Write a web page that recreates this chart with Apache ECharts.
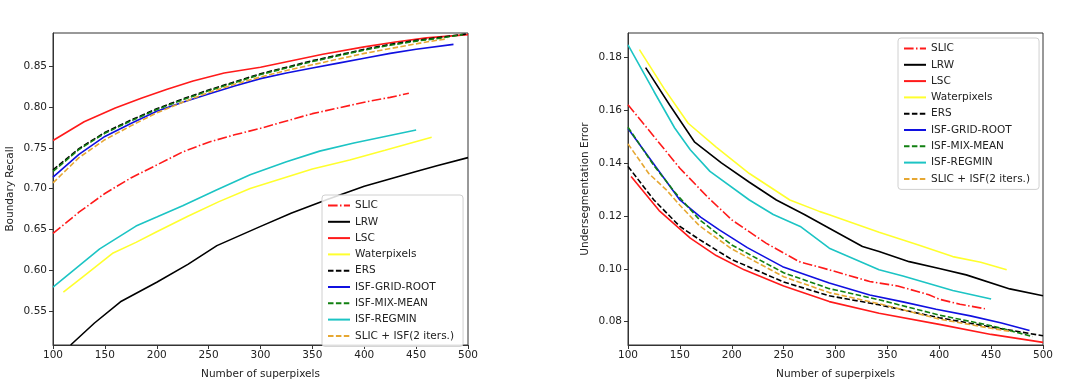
<!DOCTYPE html>
<html>
<head>
<meta charset="utf-8">
<script src="https://cdn.jsdelivr.net/npm/echarts@6/dist/echarts.min.js"></script>
<style>
html,body{margin:0;padding:0;background:#fff;}
#chart{width:1080px;height:392px;}
</style>
</head>
<body>
<div id="chart"></div>
<script>
// ---------- Data ----------
const seriesNames = ['SLIC','LRW','LSC','Waterpixels','ERS','ISF-GRID-ROOT','ISF-MIX-MEAN','ISF-REGMIN','SLIC + ISF(2 iters.)'];
const xTicks = [100,150,200,250,300,350,400,450,500];
const recallTicks = [0.55,0.60,0.65,0.70,0.75,0.80,0.85];
const errorTicks = [0.08,0.10,0.12,0.14,0.16,0.18];

// Boundary Recall  [superpixels, recall]
const br_SLIC = [[100,.645],[125,.671],[150,.694],[175,.713],[200,.729],[225,.745],[250,.757],[275,.766],[300,.774],[325,.783],[350,.792],[375,.799],[400,.806],[425,.812],[443,.817]];
const br_LRW = [[117,.508],[140,.535],[165,.561],[200,.585],[230,.607],[258,.630],[299,.653],[330,.670],[365,.687],[400,.703],[450,.721],[470,.728],[500,.738]];
const br_LSC = [[100,.759],[130,.782],[160,.799],[185,.811],[210,.822],[235,.832],[265,.842],[300,.849],[330,.857],[360,.865],[400,.874],[430,.880],[460,.885],[500,.889]];
const br_Water = [[110,.573],[130,.593],[158,.621],[180,.634],[200,.647],[230,.666],[260,.684],[290,.700],[320,.712],[350,.724],[386,.735],[420,.747],[465,.763]];
const br_ERS = [[100,.723],[125,.749],[150,.769],[175,.784],[200,.798],[225,.810],[250,.821],[275,.831],[300,.841],[325,.849],[350,.857],[375,.864],[400,.871],[425,.877],[450,.882],[475,.886],[500,.890]];
const br_GRID = [[100,.714],[125,.742],[150,.764],[175,.780],[200,.795],[225,.806],[250,.816],[275,.826],[300,.835],[325,.842],[350,.848],[375,.854],[400,.860],[425,.866],[450,.871],[486,.877]];
const br_MIX = [[100,.721],[125,.748],[150,.768],[175,.783],[200,.797],[225,.809],[250,.820],[275,.830],[300,.840],[325,.848],[350,.856],[375,.863],[400,.870],[425,.876],[450,.881],[475,.885],[495,.889]];
const br_REGMIN = [[100,.579],[120,.600],[145,.626],[160,.638],[180,.654],[200,.665],[225,.679],[257,.698],[290,.717],[325,.733],[357,.746],[390,.756],[420,.764],[450,.772]];
const br_SLICISF = [[100,.707],[125,.738],[150,.760],[175,.777],[200,.793],[225,.806],[250,.818],[275,.828],[300,.837],[325,.845],[350,.852],[375,.859],[400,.866],[434,.874],[460,.880],[480,.884]];

// Undersegmentation Error  [superpixels, error]
const ue_SLIC = [[100,.162],[125,.150],[150,.138],[177,.127],[200,.1185],[233,.1097],[265,.1027],[294,.0996],[333,.0952],[360,.0935],[390,.0902],[400,.0885],[420,.0866],[444,.0849]];
const ue_LRW = [[117,.176],[140,.162],[164,.148],[190,.140],[217,.1327],[243,.126],[270,.1205],[294,.1153],[326,.1084],[342,.1065],[371,.1027],[400,.1001],[426,.0977],[468,.0924],[500,.0898]];
const ue_LSC = [[103,.1349],[130,.122],[160,.1116],[185,.105],[212,.0996],[250,.0935],[294,.0876],[342,.0832],[400,.0790],[450,.0752],[500,.0722]];
const ue_Water = [[111,.1828],[135,.168],[158,.155],[185,.146],[217,.136],[256,.126],[285,.1216],[294,.1204],[342,.1138],[380,.109],[413,.1046],[440,.1025],[465,.0996]];
const ue_ERS = [[100,.1387],[125,.126],[150,.116],[169,.111],[200,.1035],[250,.095],[294,.0898],[342,.0864],[400,.0815],[450,.0780],[500,.0747]];
const ue_GRID = [[100,.153],[125,.1395],[150,.126],[170,.1195],[188,.1147],[215,.108],[249,.1008],[294,.0946],[333,.0901],[365,.0875],[397,.0847],[430,.0822],[460,.0795],[487,.0767]];
const ue_MIX = [[100,.1535],[125,.139],[145,.129],[169,.1185],[200,.109],[250,.0985],[294,.0925],[342,.0883],[400,.0825],[450,.0785],[490,.0744]];
const ue_REGMIN = [[100,.1846],[125,.167],[145,.1532],[160,.145],[179,.1368],[217,.126],[240,.1205],[266,.116],[294,.1078],[342,.0996],[365,.0973],[413,.0918],[450,.0886]];
const ue_SLICISF = [[100,.1472],[120,.136],[137,.1298],[150,.124],[169,.1162],[200,.1075],[250,.097],[294,.091],[342,.0868],[400,.081],[450,.0775],[470,.0762]];

// ---------- Styles ----------
const DASH = [5.5,2.4];
const DASHDOT = [9.6,2.4,1.5,2.4];
const styles = [
  {color:'#ff1a1a', type:DASHDOT},
  {color:'#000000', type:'solid'},
  {color:'#ff1a1a', type:'solid'},
  {color:'#ffff2e', type:'solid'},
  {color:'#000000', type:DASH},
  {color:'#1010e0', type:'solid'},
  {color:'#118011', type:DASH},
  {color:'#1cc4c4', type:'solid'},
  {color:'#e6a732', type:DASH}
];
const brData = [br_SLIC,br_LRW,br_LSC,br_Water,br_ERS,br_GRID,br_MIX,br_REGMIN,br_SLICISF];
const ueData = [ue_SLIC,ue_LRW,ue_LSC,ue_Water,ue_ERS,ue_GRID,ue_MIX,ue_REGMIN,ue_SLICISF];

const FONT = 'DejaVu Sans';
const TXT = '#222';

function mkSeries(data, gi){
  return data.map((d,i)=>({
    name: seriesNames[i], type:'line', xAxisIndex:gi, yAxisIndex:gi,
    data:d, symbol:'none', showSymbol:false, smooth:false,
    lineStyle:{color:styles[i].color, type:styles[i].type, width:1.6},
    itemStyle:{color:styles[i].color},
    emphasis:{disabled:true}, z:2+i
  }));
}
function xAx(gi){
  return {
    type:'value', gridIndex:gi, min:100, max:500, interval:50,
    name:'Number of superpixels', nameLocation:'middle', nameGap:24,
    nameTextStyle:{fontFamily:FONT, fontSize:10.5, color:TXT},
    axisLine:{show:true, lineStyle:{color:'#333', width:1}},
    axisTick:{show:true, inside:false, length:4, lineStyle:{color:'#333'}},
    axisLabel:{fontFamily:FONT, fontSize:10.5, color:TXT, margin:5},
    splitLine:{show:false}
  };
}
function yAx(gi, min, max, ticks, name, gap){
  return {
    type:'value', gridIndex:gi, min:min, max:max,
    name:name, nameLocation:'middle', nameGap:gap,
    nameTextStyle:{fontFamily:FONT, fontSize:10.5, color:TXT},
    axisLine:{show:true, lineStyle:{color:'#333', width:1}},
    axisTick:{show:true, inside:false, length:4, lineStyle:{color:'#333'}, customValues:ticks},
    axisLabel:{fontFamily:FONT, fontSize:10.5, color:TXT, margin:6, customValues:ticks,
      formatter:v=>v.toFixed(2)},
    splitLine:{show:false}
  };
}
function legend(left, top){
  return {
    data:seriesNames, orient:'vertical', left:left, top:top,
    itemWidth:22, itemHeight:10, itemGap:5.3,
    padding:[5,9,5,5],
    backgroundColor:'rgba(255,255,255,0.85)',
    borderColor:'#d0d0d0', borderWidth:1, borderRadius:3,
    textStyle:{fontFamily:FONT, fontSize:10.5, color:TXT},
    itemStyle:{opacity:0, borderWidth:0},
    selectedMode:false
  };
}

const chart = echarts.init(document.getElementById('chart'), null, {renderer:'canvas'});
chart.setOption({
  animation:false,
  backgroundColor:'#fff',
  grid:[
    {left:53, top:33, width:415, height:312, show:true, borderColor:'#333', borderWidth:1, backgroundColor:'transparent'},
    {left:628, top:33, width:415, height:312, show:true, borderColor:'#333', borderWidth:1, backgroundColor:'transparent'}
  ],
  xAxis:[xAx(0), xAx(1)],
  yAxis:[
    yAx(0, 0.508, 0.891, recallTicks, 'Boundary Recall', 37),
    yAx(1, 0.0712, 0.1891, errorTicks, 'Undersegmentation Error', 37)
  ],
  legend:[legend(322,195), legend(898,38)],
  series:[...mkSeries(brData,0), ...mkSeries(ueData,1)]
});
</script>
</body>
</html>
